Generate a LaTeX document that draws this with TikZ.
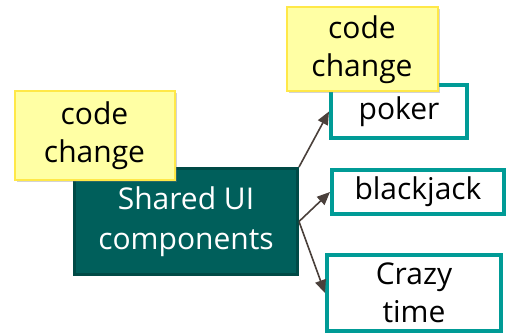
\documentclass[tikz,border=0pt]{standalone}
\usepackage{fontspec}
\setmainfont{Open Sans}
\usetikzlibrary{positioning,arrows.meta,shadows}
\definecolor{uiDark}{HTML}{005F5B}
\definecolor{uiEdge}{HTML}{004A46}
\definecolor{gameEdge}{HTML}{009B96}
\definecolor{noteFill}{HTML}{FFFFA4}
\definecolor{noteEdge}{HTML}{FFE848}
\definecolor{linkCol}{HTML}{4A403B}
\tikzset{
  shared/.style={draw=uiEdge,line width=3pt,fill=uiDark,text=white,align=center,
    font=\fontsize{30}{40}\selectfont},
  game/.style={draw=gameEdge,line width=4pt,fill=white,align=center,
    font=\fontsize{30}{38}\selectfont},
  note/.style={draw=noteEdge,line width=2pt,fill=noteFill,align=center,
    font=\fontsize{30}{38}\selectfont,
    drop shadow={shadow xshift=2pt,shadow yshift=-2pt,opacity=0.35}},
  link/.style={draw=linkCol,line width=1.6pt,-{Triangle[length=13pt,width=11pt]}}
}
\begin{document}
\begin{tikzpicture}[x=1pt,y=-1pt]
  \useasboundingbox (0,0) rectangle (506,334);
  \node[shared,minimum width=223pt,minimum height=106pt] (sui) at (186,221.5) {Shared UI\\components};
  \node[game,minimum width=136pt,minimum height=53pt] (poker) at (399,111.5) {poker};
  \node[game,minimum width=172pt,minimum height=44pt] (blackjack) at (418,192) {blackjack};
  \node[game,minimum width=174pt,minimum height=76pt,inner sep=0pt] (crazy) at (414,293) {Crazy\\time};
  \draw[link] (sui.north east) -- (poker.west);
  \draw[link] (sui.east) -- (blackjack.west);
  \draw[link] (sui.east) -- (crazy.west);
  \node[note,minimum width=160pt,minimum height=88pt,inner sep=0pt] (noteL) at (94.5,135.5) {code\\change};
  \node[note,minimum width=151pt,minimum height=84pt,inner sep=0pt] (noteT) at (362,49.5) {code\\change};
\end{tikzpicture}
\end{document}
